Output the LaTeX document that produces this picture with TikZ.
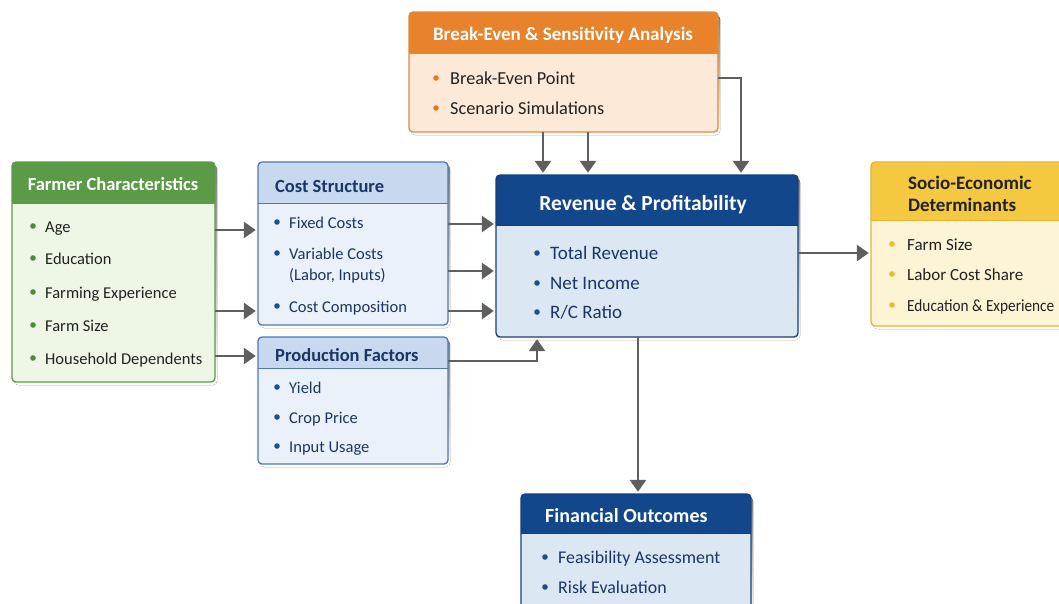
\documentclass[tikz,border=0pt]{standalone}
\usepackage{fontspec}
\setmainfont{Carlito}
\newfontfamily\narrowfont[FakeStretch=0.9]{Carlito}
\usetikzlibrary{arrows.meta}

% palette
\definecolor{arrgray}{HTML}{5F5F5F}
\definecolor{grHead}{HTML}{5B9A47}
\definecolor{grBody}{HTML}{EEF6E6}
\definecolor{grLine}{HTML}{5C9A48}
\definecolor{grDot}{HTML}{4C8B3A}
\definecolor{lbHead}{HTML}{C8D9EF}
\definecolor{lbBody}{HTML}{EBF1FA}
\definecolor{lbLine}{HTML}{4F78AD}
\definecolor{navyTxt}{HTML}{1A3566}
\definecolor{navyDot}{HTML}{1F4E8C}
\definecolor{orHead}{HTML}{E8822B}
\definecolor{orBody}{HTML}{FDE9D7}
\definecolor{orLine}{HTML}{E08A3C}
\definecolor{orDot}{HTML}{E07B27}
\definecolor{dbHead}{HTML}{12478C}
\definecolor{dbBody}{HTML}{DCE7F4}
\definecolor{dbLine}{HTML}{163F79}
\definecolor{yeHead}{HTML}{F5C842}
\definecolor{yeBody}{HTML}{FDF4D6}
\definecolor{yeLine}{HTML}{E3B53A}
\definecolor{yeDot}{HTML}{F0BB2A}
\definecolor{darkTxt}{HTML}{222222}
\definecolor{shade}{HTML}{D6D6D6}

\tikzset{
  arr/.style={draw=arrgray, line width=2.8pt, shorten >=2pt,
    -{Triangle[length=12pt,width=16pt]}},
  ttl/.style={font=\bfseries\fontsize{18.5}{21}\selectfont, inner sep=0pt},
  itm/.style={font=\fontsize{16.5}{19}\selectfont, inner sep=0pt, anchor=base west},
}

% gap between a bullet and its text
\newcommand\bulgap{12}

% panel: name, x1, y1, x2, y2, header bottom, header colour, body colour, border colour
\newcommand\panel[9]{%
  \pgfmathsetmacro\pw{#4-#2}\pgfmathsetmacro\ph{#5-#3}%
  \fill[shade, rounded corners=4pt] (#2+2,#3+3) rectangle (#4+2,#5+3);
  \fill[#8, rounded corners=4pt] (#2,#3) rectangle (#4,#5);
  \begin{scope}
    \clip[rounded corners=4pt] (#2,#3) rectangle (#4,#5);
    \fill[#7] (#2,#3) rectangle (#4,#6);
  \end{scope}
  \draw[#9, line width=0.9pt] (#2,#6) -- (#4,#6);
  \draw[#9, line width=1.3pt, rounded corners=4pt] (#2,#3) rectangle (#4,#5);
  \node[inner sep=0pt, minimum width=\pw pt, minimum height=\ph pt]
    (#1) at ({(#2+#4)/2},{(#3+#5)/2}) {};
}

% bullet item: name, x, y, dot colour, text colour, text
\newcommand\bul[6]{%
  \fill[#4] (#2,#3) circle (2.8pt);
  \node[itm, text=#5] (#1) at (#2+\bulgap,#3+6) {#6};
}

\begin{document}
\begin{tikzpicture}[x=1pt,y=-1pt]
\useasboundingbox (0,0) rectangle (1059,603);
\fill[white] (0,0) rectangle (1059,603);

% ---------- panels ----------
\panel{fc}{12}{162}{215}{382}{203}{grHead}{grBody}{grLine}
\panel{cs}{258}{162}{448}{325}{203}{lbHead}{lbBody}{lbLine}
\panel{pf}{258}{337}{448}{464}{368}{lbHead}{lbBody}{lbLine}
\panel{be}{409}{12}{718}{132}{53}{orHead}{orBody}{orLine}
\panel{rp}{496}{175}{798}{337}{225}{dbHead}{dbBody}{dbLine}
\panel{se}{871}{162}{1075}{326}{220}{yeHead}{yeBody}{yeLine}
\panel{fo}{521}{494}{751}{615}{533}{dbHead}{dbBody}{dbLine}

% ---------- titles ----------
\node[ttl, text=white] (fc-t) at (113,184) {Farmer Characteristics};
\node[ttl, text=navyTxt, anchor=west] (cs-t) at (275,186) {Cost Structure};
\node[ttl, text=navyTxt, anchor=west] (pf-t) at (275,355) {Production Factors};
\node[ttl, text=white, font=\bfseries\fontsize{19}{21}\selectfont] (be-t) at (563,35) {Break-Even \& Sensitivity Analysis};
\node[ttl, text=white, font=\bfseries\fontsize{21.5}{24}\selectfont] (rp-t) at (643,205) {Revenue \& Profitability};
\node[ttl, text=darkTxt, anchor=west, align=left, font=\bfseries\fontsize{19}{22}\selectfont] (se-t) at (908,194) {Socio-Economic\\Determinants};
\node[ttl, text=white, anchor=west, font=\bfseries\fontsize{20}{22}\selectfont] (fo-t) at (545,516) {Financial Outcomes};

% ---------- items ----------
\bul{fc-1}{33}{226}{grDot}{darkTxt}{Age}
\bul{fc-2}{33}{258}{grDot}{darkTxt}{Education}
\bul{fc-3}{33}{292}{grDot}{darkTxt}{Farming Experience}
\bul{fc-4}{33}{325}{grDot}{darkTxt}{Farm Size}
\bul{fc-5}{33}{358}{grDot}{darkTxt}{Household Dependents}

\bul{cs-1}{277}{222}{navyDot}{navyTxt}{Fixed Costs}
\bul{cs-2}{277}{253}{navyDot}{navyTxt}{Variable Costs}
\node[itm, text=navyTxt] (cs-2b) at (289,280) {(Labor, Inputs)};
\bul{cs-3}{277}{306}{navyDot}{navyTxt}{Cost Composition}

\bul{pf-1}{277}{387}{navyDot}{navyTxt}{Yield}
\bul{pf-2}{277}{417}{navyDot}{navyTxt}{Crop Price}
\bul{pf-3}{277}{446}{navyDot}{navyTxt}{Input Usage}

\begin{scope}[itm/.append style={font=\fontsize{18.3}{21}\selectfont}]
\renewcommand\bulgap{14}
\bul{be-1}{436}{78}{orDot}{darkTxt}{Break-Even Point}
\bul{be-2}{436}{108}{orDot}{darkTxt}{Scenario Simulations}
\end{scope}

\begin{scope}[itm/.append style={font=\fontsize{19}{22}\selectfont}]
\renewcommand\bulgap{13}
\bul{rp-1}{537}{253}{navyDot}{navyTxt}{Total Revenue}
\bul{rp-2}{537}{283}{navyDot}{navyTxt}{Net Income}
\bul{rp-3}{537}{312}{navyDot}{navyTxt}{R/C Ratio}
\end{scope}

\begin{scope}[itm/.append style={font=\fontsize{17}{20}\selectfont}]
\renewcommand\bulgap{15}
\bul{se-1}{892}{244}{yeDot}{darkTxt}{Farm Size}
\bul{se-2}{892}{274}{yeDot}{darkTxt}{Labor Cost Share}
\bul{se-3}{892}{305}{yeDot}{darkTxt}{\narrowfont Education \& Experience}
\end{scope}

\begin{scope}[itm/.append style={font=\fontsize{17.9}{20}\selectfont}]
\renewcommand\bulgap{13}
\bul{fo-1}{545}{557}{navyDot}{navyTxt}{Feasibility Assessment}
\bul{fo-2}{545}{587}{navyDot}{navyTxt}{Risk Evaluation}
\end{scope}

% ---------- connectors ----------
\draw[arr] (fc.east |- 0,230) -- (cs.west |- 0,230);
\draw[arr] (fc.east |- 0,311) -- (cs.west |- 0,311);
\draw[arr] (fc.east |- 0,356) -- (pf.west |- 0,356);
\draw[arr] (cs.east |- 0,224) -- (rp.west |- 0,224);
\draw[arr] (cs.east |- 0,271) -- (rp.west |- 0,271);
\draw[arr] (cs.east |- 0,311) -- (rp.west |- 0,311);
\draw[arr] (pf.east |- 0,361) -| (rp.south -| 537,0);
\draw[arr] (be.south -| 543,0) -- (rp.north -| 543,0);
\draw[arr] (be.south -| 588,0) -- (rp.north -| 588,0);
\draw[arr] (be.east |- 0,78) -| (rp.north -| 741,0);
\draw[arr] (rp.east |- 0,253) -- (se.west |- 0,253);
\draw[arr] (rp.south -| 638,0) -- (fo.north -| 638,0);
\end{tikzpicture}
\end{document}
